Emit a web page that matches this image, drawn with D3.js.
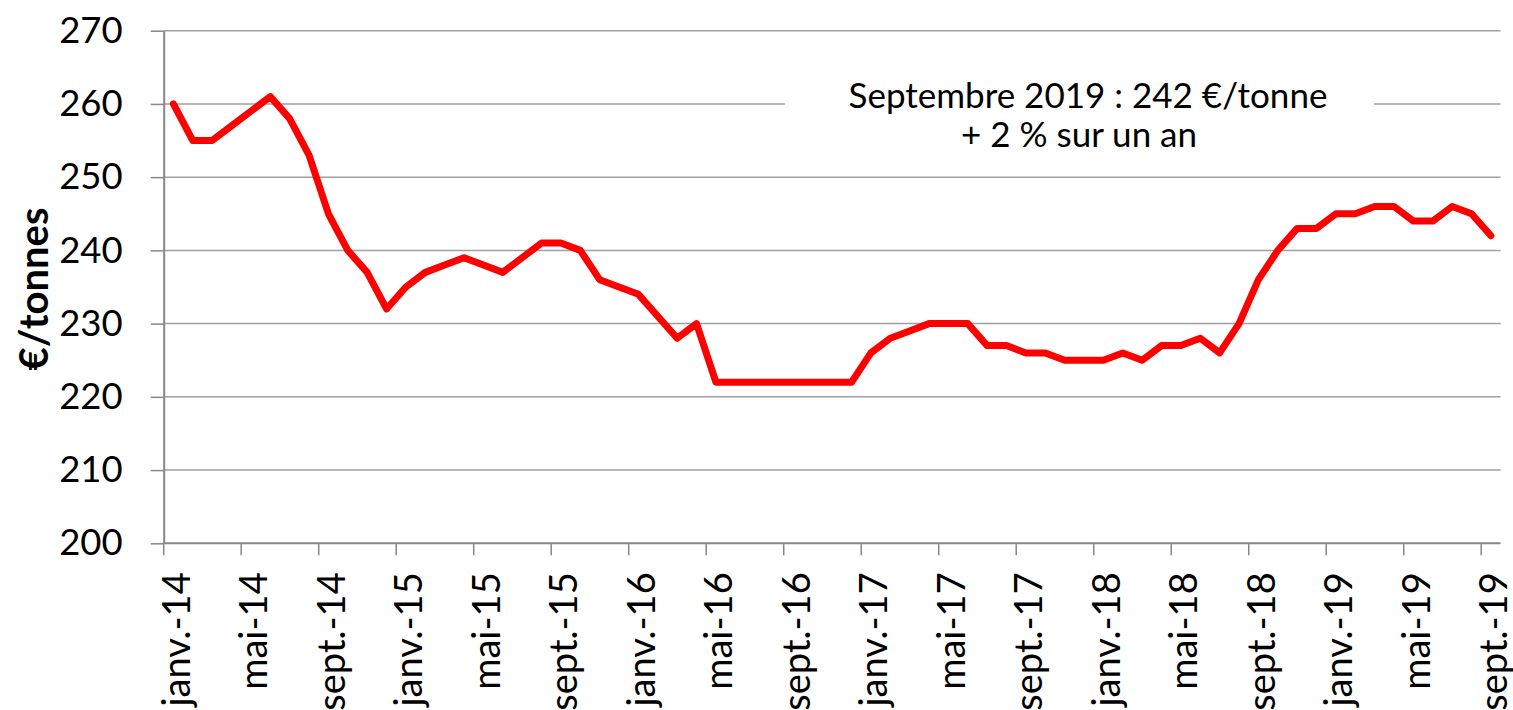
<!DOCTYPE html>
<html><head><meta charset="utf-8">
<script src="https://cdn.jsdelivr.net/npm/d3@7/dist/d3.min.js"></script>
<style>body{margin:0;background:#fff;overflow:hidden}</style>
</head><body>
<svg id="c" width="1513" height="710"></svg>
<script>
const monthNames = ["janv.","févr.","mars","avr.","mai","juin","juil.","août","sept.","oct.","nov.","déc."];
const years = ["14","15","16","17","18","19"];
const categories = [];
years.forEach(y => monthNames.forEach(m => categories.push(m + "-" + y)));
categories.length = 69; // janv.-14 .. sept.-19

const prices = [
  260,255,255,257,259,261,258,253,245,240,237,232,
  235,237,238,239,238,237,239,241,241,240,236,235,
  234,231,228,230,222,222,222,222,222,222,222,222,
  226,228,229,230,230,230,227,227,226,226,225,225,
  225,226,225,227,227,228,226,230,236,240,243,243,
  245,245,246,246,244,244,246,245,242
];
const yTicks = [200,210,220,230,240,250,260,270];
const xTickLabels = categories.filter((d,i) => i % 4 === 0);
const yTitle = "€/tonnes";
const noteLines = ["Septembre 2019 : 242 €/tonne", "+ 2 % sur un an"];

const svg = d3.select("#c");
const pLeft = 163.7, pRight = 1500.6, pTop = 30.7, pBottom = 543.3;
const x = d3.scaleBand().domain(categories).range([pLeft, pRight]).padding(0);
const y = d3.scaleLinear().domain([200,270]).range([pBottom, pTop]);
const font = "Lato, 'Open Sans', sans-serif";

// gridlines
svg.append("g").selectAll("line").data(yTicks.filter(d => d > 200)).join("line")
  .attr("x1", pLeft).attr("x2", pRight)
  .attr("y1", d => y(d)).attr("y2", d => y(d))
  .attr("stroke", "#a0a0a0").attr("stroke-width", 1.5);

// y axis
const yAxis = svg.append("g").attr("transform", `translate(${pLeft},0)`)
  .call(d3.axisLeft(y).tickValues(yTicks).tickSize(13).tickPadding(28).tickSizeOuter(0));
yAxis.select(".domain").attr("stroke", "#868686").attr("stroke-width", 2);
yAxis.selectAll(".tick line").attr("stroke", "#868686").attr("stroke-width", 1.5);
yAxis.selectAll(".tick text").attr("font-family", font).attr("font-size", 36.5).attr("fill", "#000");

// x axis
svg.append("line").attr("x1", pLeft).attr("x2", pRight).attr("y1", pBottom).attr("y2", pBottom)
  .attr("stroke", "#868686").attr("stroke-width", 2);
svg.append("g").selectAll("line").data(xTickLabels).join("line")
  .attr("x1", d => x(d)).attr("x2", d => x(d))
  .attr("y1", pBottom).attr("y2", pBottom + 12)
  .attr("stroke", "#868686").attr("stroke-width", 1.5);
svg.append("g").selectAll("text").data(xTickLabels).join("text")
  .attr("transform", d => `translate(${x(d) + x.bandwidth()/2},${pBottom + 29}) rotate(-90)`)
  .attr("text-anchor", "end").attr("dy", "0.43em")
  .attr("font-family", font).attr("font-size", 38).attr("fill", "#000")
  .text(d => d);

// y title
svg.append("text")
  .attr("transform", `translate(34,${(pTop + pBottom)/2 + 2}) rotate(-90)`)
  .attr("text-anchor", "middle").attr("dy", "0.35em")
  .attr("font-family", font).attr("font-size", 40).attr("font-weight", "bold").attr("fill", "#000")
  .text(yTitle);

// line
const line = d3.line().x((d,i) => x(categories[i]) + x.bandwidth()/2).y(d => y(d));
svg.append("path").datum(prices).attr("d", line)
  .attr("fill", "none").attr("stroke", "#ff0000").attr("stroke-width", 7)
  .attr("stroke-linejoin", "round").attr("stroke-linecap", "round");

// annotation
svg.append("rect").attr("x", 785).attr("y", 80).attr("width", 589).attr("height", 80).attr("fill", "#fff");
const note = svg.append("text").attr("font-family", font).attr("font-size", 35).attr("fill", "#000").attr("text-anchor", "middle");
note.append("tspan").attr("x", 1088).attr("y", 108).text(noteLines[0]);
note.append("tspan").attr("x", 1079).attr("y", 147).text(noteLines[1]);
</script>
</body></html>
